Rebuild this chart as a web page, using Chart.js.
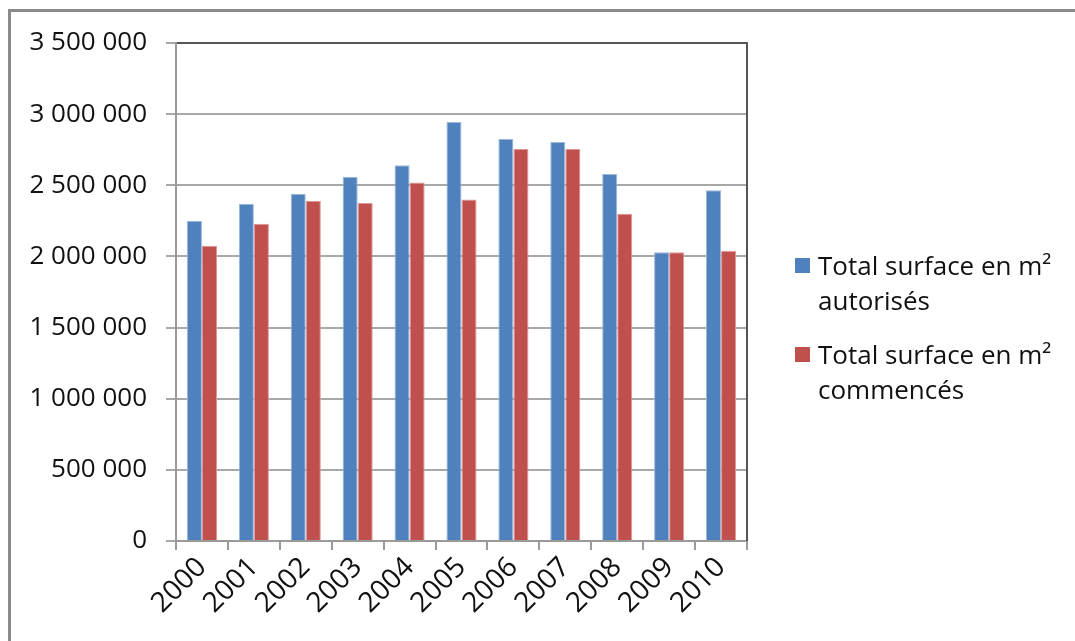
<!DOCTYPE html>
<html lang="fr">
<head>
<meta charset="utf-8">
<title>Surfaces autorisées et commencées</title>
<script src="https://cdn.jsdelivr.net/npm/chart.js@4.4.1/dist/chart.umd.min.js"></script>
<style>
    html, body { margin: 0; padding: 0; background: #fff; }
    body { width: 1075px; height: 641px; position: relative; overflow: hidden; font-family: "Open Sans", sans-serif; }
    #frame { position: absolute; left: 8px; top: 9px; right: -10px; bottom: -10px; border-left: 3px solid #8a8a8a; border-top: 3px solid #8a8a8a; }
    #surface-chart { position: absolute; left: 0; top: 0; }
    #surface-legend { position: absolute; left: 795px; top: 248px; color: #111; font-size: 26px; }
    .legend-item { display: flex; align-items: flex-start; margin-bottom: 19px; }
    .legend-box { width: 15px; height: 15px; margin-top: 10px; margin-right: 8px; flex: none; }
    .legend-text { width: 255px; line-height: 35px; }
</style>
</head>
<body>
<div id="frame"></div>
<canvas id="surface-chart" width="1075" height="641"></canvas>
<div id="surface-legend"></div>
<script>
const YEARS = ["2000", "2001", "2002", "2003", "2004", "2005", "2006", "2007", "2008", "2009", "2010"];
const SURFACE_AUTORISES = [2250000, 2370000, 2440000, 2560000, 2640000, 2945000, 2825000, 2805000, 2580000, 2030000, 2465000];
const SURFACE_COMMENCES = [2075000, 2230000, 2390000, 2375000, 2520000, 2400000, 2755000, 2755000, 2300000, 2030000, 2040000];
const SERIES_LABELS = ["Total surface en m² autorisés", "Total surface en m² commencés"];
const SERIES_COLORS = ["#4f81bd", "#c0504d"];
const SERIES_EDGES = ["#9cb6da", "#dd9896"];
const Y_MAX = 3500000;
const Y_STEP = 500000;

const formatNumber = value => String(value).replace(/\B(?=(\d{3})+(?!\d))/g, " ");

Chart.defaults.font.family = "'Open Sans', sans-serif";
Chart.defaults.font.size = 26;
Chart.defaults.color = "#111";

// right edge of the plot area, darker like the top line
const plotFrame = {
    id: "plotFrame",
    afterDatasetsDraw(chart) {
        const { ctx, chartArea } = chart;
        ctx.save();
        ctx.strokeStyle = "#555";
        ctx.lineWidth = 2;
        ctx.beginPath();
        ctx.moveTo(chartArea.right, chartArea.top - 1);
        ctx.lineTo(chartArea.right, chartArea.bottom);
        ctx.stroke();
        ctx.restore();
    }
};

const datasets = [SURFACE_AUTORISES, SURFACE_COMMENCES].map((values, i) => ({
    label: SERIES_LABELS[i],
    data: values,
    backgroundColor: SERIES_COLORS[i],
    borderColor: SERIES_EDGES[i],
    borderWidth: 1,
    categoryPercentage: 0.58,
    barPercentage: 1
}));

new Chart(document.getElementById("surface-chart"), {
    type: "bar",
    data: { labels: YEARS, datasets },
    options: {
        responsive: false,
        animation: false,
        layout: { padding: { left: 0, top: 43, right: 328, bottom: 0 } },
        plugins: {
            legend: { display: false },
            tooltip: { enabled: false }
        },
        scales: {
            x: {
                grid: {
                    offset: true,
                    drawOnChartArea: false,
                    color: "#9a9a9a",
                    lineWidth: 2,
                    tickLength: 9
                },
                border: { color: "#9a9a9a", width: 2 },
                ticks: { minRotation: 45, maxRotation: 45, padding: 1, autoSkip: false, font: { size: 28 } },
                afterFit: scale => { scale.height = 100; }
            },
            y: {
                min: 0,
                max: Y_MAX,
                grid: {
                    color: ctx => ctx.tick && ctx.tick.value === Y_MAX ? "#555" : "#a8a8a8",
                    tickColor: "#a8a8a8",
                    lineWidth: 2,
                    tickLength: 10
                },
                border: { color: "#9a9a9a", width: 2 },
                ticks: {
                    stepSize: Y_STEP,
                    padding: 19,
                    callback: value => formatNumber(value)
                },
                afterFit: scale => { scale.width = 176; }
            }
        }
    },
    plugins: [plotFrame]
});

const legendBox = document.getElementById("surface-legend");
datasets.forEach(ds => {
    const item = document.createElement("div");
    item.className = "legend-item";
    const box = document.createElement("span");
    box.className = "legend-box";
    box.style.background = ds.backgroundColor;
    const text = document.createElement("span");
    text.className = "legend-text";
    text.textContent = ds.label;
    item.append(box, text);
    legendBox.appendChild(item);
});
</script>
</body>
</html>
